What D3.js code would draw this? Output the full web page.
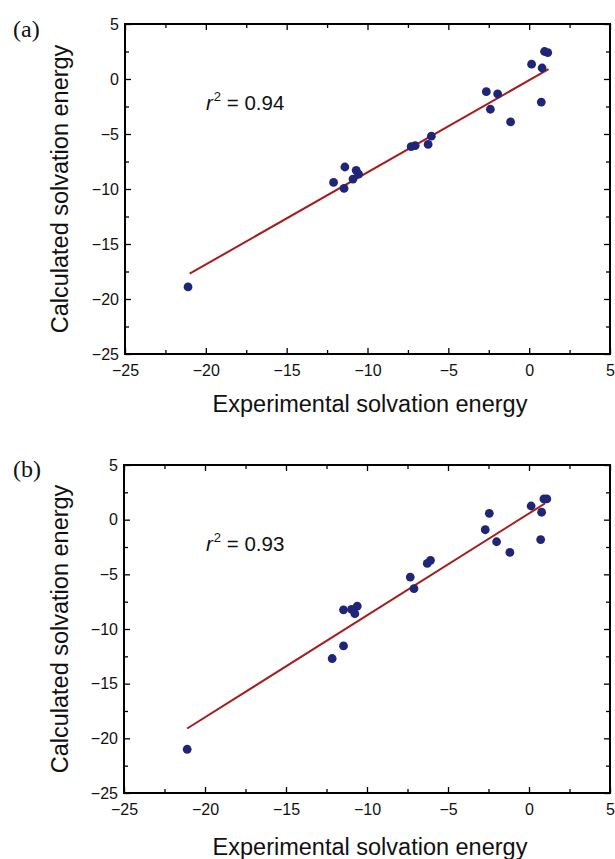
<!DOCTYPE html>
<html>
<head>
<meta charset="utf-8">
<script src="https://cdn.jsdelivr.net/npm/d3@7"></script>
<style>
  html, body { margin: 0; padding: 0; background: #fff; }
  svg { display: block; }
</style>
</head>
<body>
<svg id="chart" width="615" height="859"></svg>
<script>
// ---- data ----
const axisTicks = [-25, -20, -15, -10, -5, 0, 5];
const minorTicks = [-22.5, -17.5, -12.5, -7.5, -2.5, 2.5];

const expA  = [-21.1, -12.1, -11.4, -11.45, -10.9, -10.7, -10.55, -7.3, -7.05, -6.25, -6.05, -2.65, -2.4, -1.95, -1.15, 0.15, 0.8, 0.75, 0.95, 1.15];
const calcA = [-18.9, -9.4, -8.0, -9.95, -9.1, -8.3, -8.65, -6.15, -6.05, -5.95, -5.2, -1.15, -2.75, -1.35, -3.9, 1.35, 1.0, -2.1, 2.5, 2.4];
const fitXA = [-21.0, 1.2];
const fitYA = [-17.7, 0.9];

const expB  = [-21.1, -12.15, -11.45, -11.45, -10.95, -10.75, -10.6, -7.33, -7.1, -6.28, -6.08, -2.7, -2.45, -2.0, -1.18, 0.13, 0.78, 0.72, 0.92, 1.1];
const calcB = [-21.0, -12.7, -11.55, -8.25, -8.2, -8.6, -7.9, -5.25, -6.3, -4.0, -3.72, -0.92, 0.58, -2.02, -3.0, 1.25, 0.68, -1.82, 1.9, 1.9];
const fitXB = [-21.1, 1.0];
const fitYB = [-19.1, 1.5];

const panelLabels = ["(a)", "(b)"];
const r2Labels = ["0.94", "0.93"];
const xTitle = "Experimental solvation energy";
const yTitle = "Calculated solvation energy";

// ---- layout ----
const panels = [
  { label: panelLabels[0], r2: r2Labels[0], xs: expA, ys: calcA, fx: fitXA, fy: fitYA,
    left: 125, right: 610, top: 24, bottom: 354, xTitleY: 412, labelY: 37 },
  { label: panelLabels[1], r2: r2Labels[1], xs: expB, ys: calcB, fx: fitXB, fy: fitYB,
    left: 124, right: 610, top: 465, bottom: 793, xTitleY: 855, labelY: 477 }
];

const svg = d3.select("#chart");
const sans = "'Liberation Sans', Arial, sans-serif";
const dotColor = "#1f2577";
const lineColor = "#a51d1d";

panels.forEach(p => {
  const x = d3.scaleLinear().domain([-25, 5]).range([p.left, p.right]);
  const y = d3.scaleLinear().domain([-25, 5]).range([p.bottom, p.top]);
  const g = svg.append("g");

  // axes with inward ticks
  const styleAxis = sel => {
    sel.select(".domain").remove();
    sel.selectAll("line").attr("stroke", "#000").attr("stroke-width", 1.3);
    sel.selectAll("text").attr("font-family", sans).attr("font-size", 16).attr("fill", "#111");
  };
  g.append("g").attr("transform", `translate(0,${p.bottom})`)
    .call(d3.axisBottom(x).tickValues(axisTicks).tickSize(-6).tickPadding(11)).call(styleAxis);
  g.append("g").attr("transform", `translate(0,${p.bottom})`)
    .call(d3.axisBottom(x).tickValues(minorTicks).tickSize(-4).tickFormat("")).call(styleAxis);
  g.append("g").attr("transform", `translate(0,${p.top})`)
    .call(d3.axisTop(x).tickValues(axisTicks).tickSize(-6).tickFormat("")).call(styleAxis);
  g.append("g").attr("transform", `translate(0,${p.top})`)
    .call(d3.axisTop(x).tickValues(minorTicks).tickSize(-4).tickFormat("")).call(styleAxis);
  g.append("g").attr("transform", `translate(${p.left},0)`)
    .call(d3.axisLeft(y).tickValues(axisTicks).tickSize(-6).tickPadding(6)).call(styleAxis);
  g.append("g").attr("transform", `translate(${p.left},0)`)
    .call(d3.axisLeft(y).tickValues(minorTicks).tickSize(-4).tickFormat("")).call(styleAxis);
  g.append("g").attr("transform", `translate(${p.right},0)`)
    .call(d3.axisRight(y).tickValues(axisTicks).tickSize(-6).tickFormat("")).call(styleAxis);
  g.append("g").attr("transform", `translate(${p.right},0)`)
    .call(d3.axisRight(y).tickValues(minorTicks).tickSize(-4).tickFormat("")).call(styleAxis);

  // frame
  g.append("rect")
    .attr("x", x(-25)).attr("y", y(5))
    .attr("width", x(5) - x(-25)).attr("height", y(-25) - y(5))
    .attr("fill", "none").attr("stroke", "#000").attr("stroke-width", 2);

  // fit line
  const fitPts = p.fx.map((v, i) => [v, p.fy[i]]);
  g.append("path")
    .datum(fitPts)
    .attr("d", d3.line().x(d => x(d[0])).y(d => y(d[1])))
    .attr("fill", "none").attr("stroke", lineColor).attr("stroke-width", 2);

  // points
  const pts = p.xs.map((v, i) => [v, p.ys[i]]);
  g.selectAll("circle.pt").data(pts).enter().append("circle")
    .attr("class", "pt")
    .attr("cx", d => x(d[0])).attr("cy", d => y(d[1]))
    .attr("r", 4.4).attr("fill", dotColor);

  // r^2 annotation
  const t = g.append("text")
    .attr("x", 206).attr("y", y(5) + 86)
    .attr("font-family", sans).attr("font-size", 20.5).attr("fill", "#111");
  t.append("tspan").attr("font-style", "italic").text("r");
  t.append("tspan").attr("font-size", 13).attr("dy", -9).attr("dx", 1).text("2");
  t.append("tspan").attr("dy", 9).text(" = " + p.r2);

  // axis titles
  g.append("text")
    .attr("x", 370).attr("y", p.xTitleY)
    .attr("text-anchor", "middle")
    .attr("font-family", sans).attr("font-size", 23.5).attr("fill", "#111")
    .text(xTitle);
  g.append("text")
    .attr("transform", `translate(68,${(p.top + p.bottom) / 2}) rotate(-90)`)
    .attr("text-anchor", "middle")
    .attr("font-family", sans).attr("font-size", 23.5).attr("fill", "#111")
    .text(yTitle);

  // panel label
  g.append("text")
    .attr("x", 13).attr("y", p.labelY)
    .attr("font-family", "'Liberation Serif', 'Times New Roman', serif")
    .attr("font-size", 24).attr("fill", "#111")
    .text(p.label);
});
</script>
</body>
</html>
